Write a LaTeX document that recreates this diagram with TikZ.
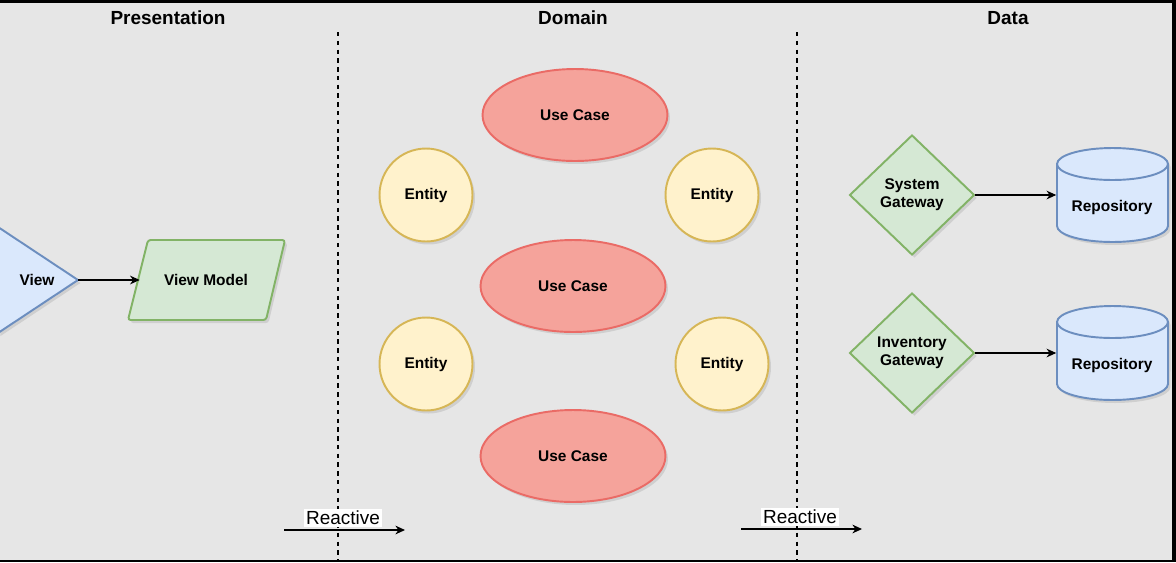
\documentclass[tikz,border=0pt]{standalone}
\usepackage{fontspec}
\setmainfont{Liberation Sans}
\usetikzlibrary{shapes.geometric,shadows,arrows.meta}
\definecolor{bgray}{HTML}{E6E6E6}
\definecolor{bluefill}{HTML}{DAE8FC}
\definecolor{blueline}{HTML}{6C8EBF}
\definecolor{greenfill}{HTML}{D5E8D4}
\definecolor{greenline}{HTML}{82B366}
\definecolor{yellowfill}{HTML}{FFF2CC}
\definecolor{yellowline}{HTML}{D6B656}
\definecolor{redfill}{HTML}{F5A39B}
\definecolor{redline}{HTML}{EA6B66}

\begin{document}
\begin{tikzpicture}[x=0.02cm,y=-0.02cm,
    shade/.style={drop shadow={shadow xshift=0.05cm,shadow yshift=-0.06cm,opacity=0.22}},
    card/.style={line width=1.1pt, shade, font=\fontsize{8.8}{10.2}\selectfont\bfseries, align=center, inner sep=1pt},
    usecase/.style={card, ellipse, fill=redfill, draw=redline, minimum width=3.7cm, minimum height=1.84cm},
    entity/.style={card, circle, fill=yellowfill, draw=yellowline, minimum size=1.86cm},
    gateway/.style={card, diamond, fill=greenfill, draw=greenline, minimum width=2.5cm, minimum height=2.4cm},
    vmbody/.style={line width=1.1pt, shade, fill=greenfill, draw=greenline, rounded corners=1.5pt},
    repobody/.style={line width=1.1pt, shade, fill=bluefill, draw=blueline},
    lbl/.style={font=\fontsize{8.8}{10.2}\selectfont\bfseries, inner sep=1pt},
    layer/.style={font=\fontsize{10.8}{13}\selectfont\bfseries},
    sep/.style={line width=0.6pt, dash pattern=on 2.5pt off 2.5pt},
    arr/.style={line width=0.6pt, -{Stealth[length=5.5pt,width=5pt]}},
    tag/.style={fill=white, inner sep=1pt, font=\fontsize{10.8}{13}\selectfont}]
    \useasboundingbox (0,0) rectangle (1176,562);
    \fill[black] (0,0) rectangle (1176,562);
    \fill[bgray] (0,3) rectangle (1172,560);
    \clip (0,3) rectangle (1172,560);

    \node[layer] (pres) at (168,18) {Presentation};
    \node[layer] (dom) at (573,18) {Domain};
    \node[layer] (data) at (1008,18) {Data};
    \draw[sep] (338,32) -- (338,560);
    \draw[sep] (797,32) -- (797,560);

    \draw[repobody] (-2,227) -- (78,280) coordinate (view) -- (-2,333) -- cycle;
    \node[lbl] (viewtxt) at (37,280) {View};
    \draw[vmbody] (148,240) -- (285,240) -- (266,320) -- (128,320) -- cycle;
    \node[lbl, minimum width=2.64cm, minimum height=1.6cm] (vm) at (206,280) {View Model};
    \draw[arr] (view) -- (vm);

    \node[usecase] (uc1) at (575,115) {Use Case};
    \node[usecase] (uc2) at (573,286) {Use Case};
    \node[usecase] (uc3) at (573,456) {Use Case};
    \node[entity] (ent1) at (426,195) {Entity};
    \node[entity] (ent2) at (712,195) {Entity};
    \node[entity] (ent3) at (426,364) {Entity};
    \node[entity] (ent4) at (722,364) {Entity};

    \foreach \n/\gy/\gname in {1/195/System, 2/353/Inventory} {
        \node[gateway] (gw\n) at (912,\gy) {\gname\\Gateway};
        \draw[repobody] (1057,\gy-31) -- (1057,\gy+31) arc[start angle=180,end angle=360,x radius=1.11cm,y radius=0.32cm]
            -- (1168,\gy-31) arc[start angle=0,end angle=180,x radius=1.11cm,y radius=0.32cm] -- cycle;
        \draw[line width=1.1pt, blueline] (1057,\gy-31) arc[start angle=180,end angle=360,x radius=1.11cm,y radius=0.32cm];
        \node[lbl, minimum width=2.22cm] (repo\n) at (1112,\gy+12) {Repository};
        \draw[arr] (gw\n) -- (gw\n -| repo\n.west);
    }

    \foreach \i/\x/\y in {1/284/530, 2/741/529} {
        \coordinate (rs\i) at (\x,\y);
        \coordinate (re\i) at (\x+121,\y);
        \draw[arr] (rs\i) -- (re\i);
        \node[tag] (rt\i) at (\x+59,\y-12) {Reactive};
    }
\end{tikzpicture}
\end{document}
